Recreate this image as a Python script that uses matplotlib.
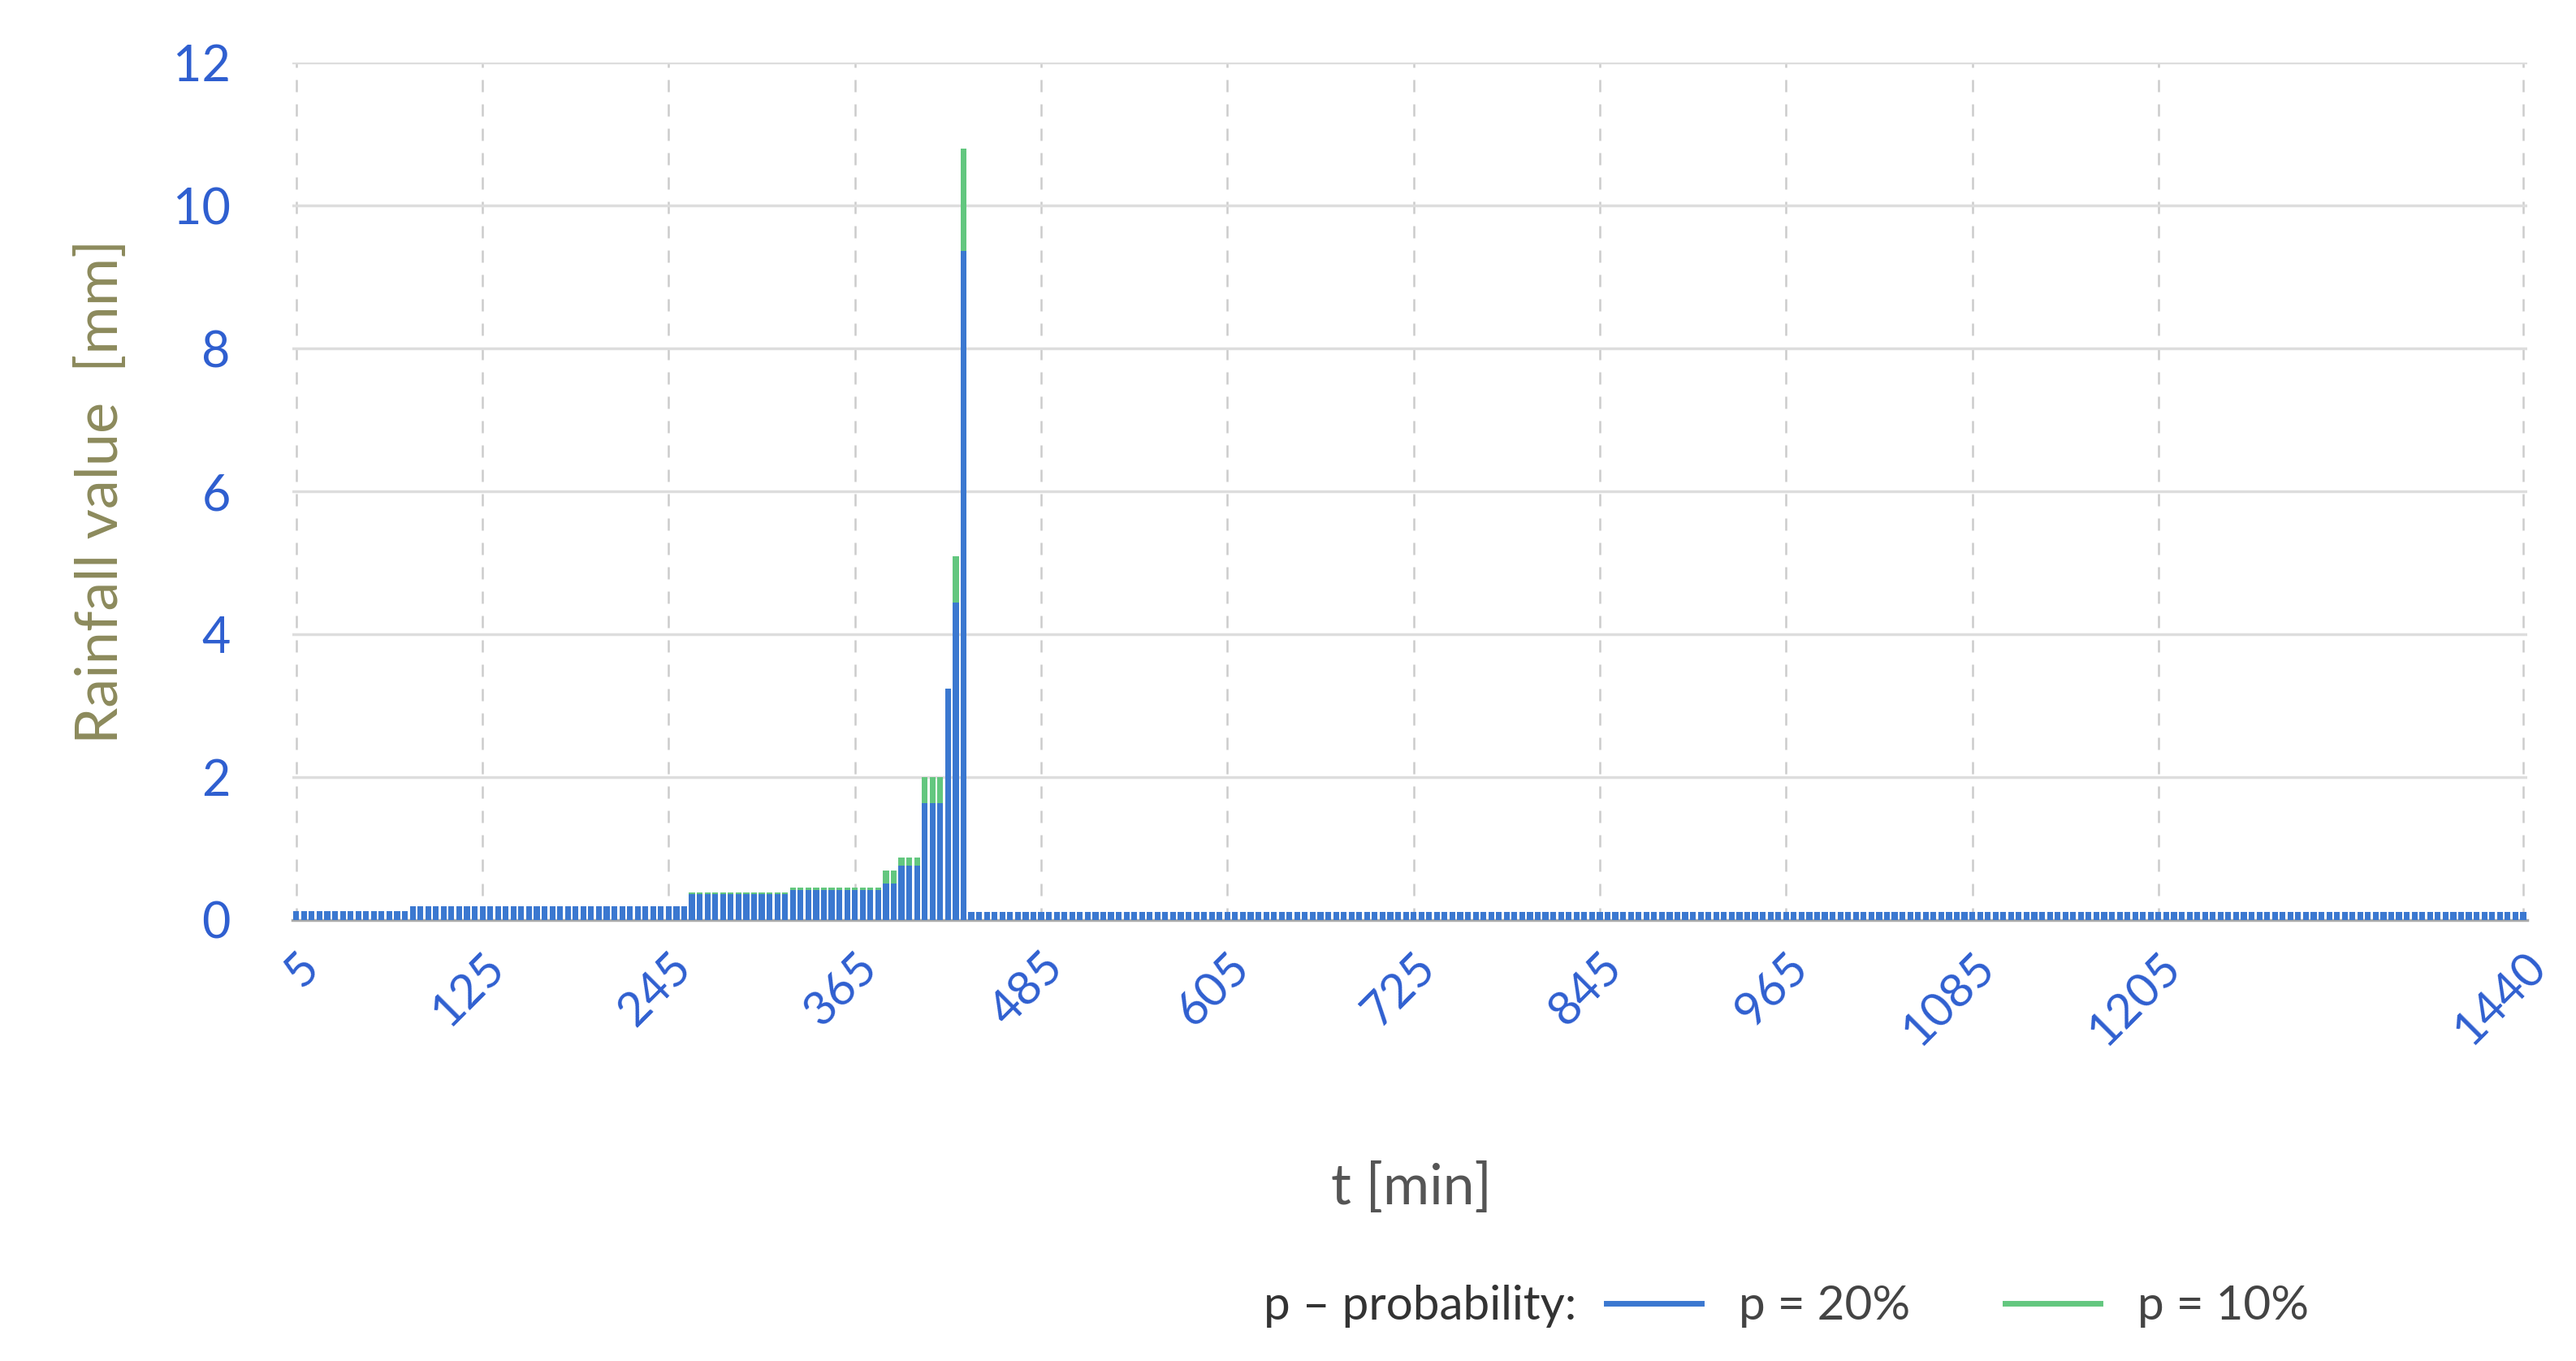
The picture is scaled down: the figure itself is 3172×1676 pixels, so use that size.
import matplotlib
matplotlib.use('Agg')
import matplotlib.pyplot as plt
import numpy as np
from matplotlib.lines import Line2D

# time steps, 5 min each
t_min = list(range(5, 1445, 5))

# rainfall per step (segments of equal value)
p20 = ([0.12]*15 + [0.19]*36 + [0.36]*13 + [0.42]*12 +
       [0.51]*2 + [0.76]*3 + [1.64]*3 + [3.24] + [4.44] + [9.36] + [0.11]*201)
p10 = ([0.12]*15 + [0.19]*36 + [0.39]*13 + [0.45]*12 +
       [0.69]*2 + [0.87]*3 + [2.0]*3 + [3.24] + [5.09] + [10.8] + [0.11]*201)

tick_labels = ['5', '125', '245', '365', '485', '605', '725', '845', '965', '1085', '1205', '1440']

plt.rcParams['font.family'] = ['Lato', 'DejaVu Sans']

fig = plt.figure(figsize=(31.72, 16.76), dpi=100)
ax = fig.add_axes([0.1135, 0.324, 0.8675, 0.63])

x = np.arange(len(t_min))
ax.bar(x, p10, width=0.75, color='#63c77f', zorder=2)
ax.bar(x, p20, width=0.75, color='#3b78d0', zorder=3)

tick_pos = [t_min.index(int(s)) for s in tick_labels]
ax.set_xticks(tick_pos)
ax.set_xticklabels(tick_labels, rotation=45, ha='right', rotation_mode='anchor',
                   color='#2f5fd0', fontsize=42)
ax.set_xlim(-0.5, len(t_min) - 0.5)
ax.set_ylim(0, 12)
ax.set_yticks(range(0, 13, 2))
ax.tick_params(axis='y', colors='#2f5fd0', labelsize=44, length=0, pad=55)
ax.tick_params(axis='x', length=0, pad=22)

ax.grid(axis='y', color='#dddddd', linewidth=2.5, zorder=0)
ax.grid(axis='x', color='#cccccc', linestyle=(0, (6, 6)), linewidth=1.8, zorder=0)
for s in ['top', 'right', 'left']:
    ax.spines[s].set_visible(False)
ax.spines['bottom'].set_color('#aaaaaa')
ax.spines['bottom'].set_linewidth(2.5)
ax.set_axisbelow(True)

ax.set_ylabel('Rainfall value  [mm]', color='#8c8a5c', fontsize=52, labelpad=40)
fig.text(0.548, 0.115, 't [min]', color='#555555', fontsize=50, ha='center')

handles = [Line2D([], [], color='#3b78d0', linewidth=5),
           Line2D([], [], color='#63c77f', linewidth=5)]
leg = fig.legend(handles, ['p = 20%', 'p = 10%'], loc='center left',
                 bbox_to_anchor=(0.607, 0.04), ncol=2, frameon=False,
                 fontsize=42, handlelength=2.0, columnspacing=2.0)
for txt in leg.get_texts():
    txt.set_color('#444444')
fig.text(0.612, 0.04, 'p – probability:', color='#333333', fontsize=42,
         ha='right', va='center')

fig.savefig('out.png', dpi=100)
